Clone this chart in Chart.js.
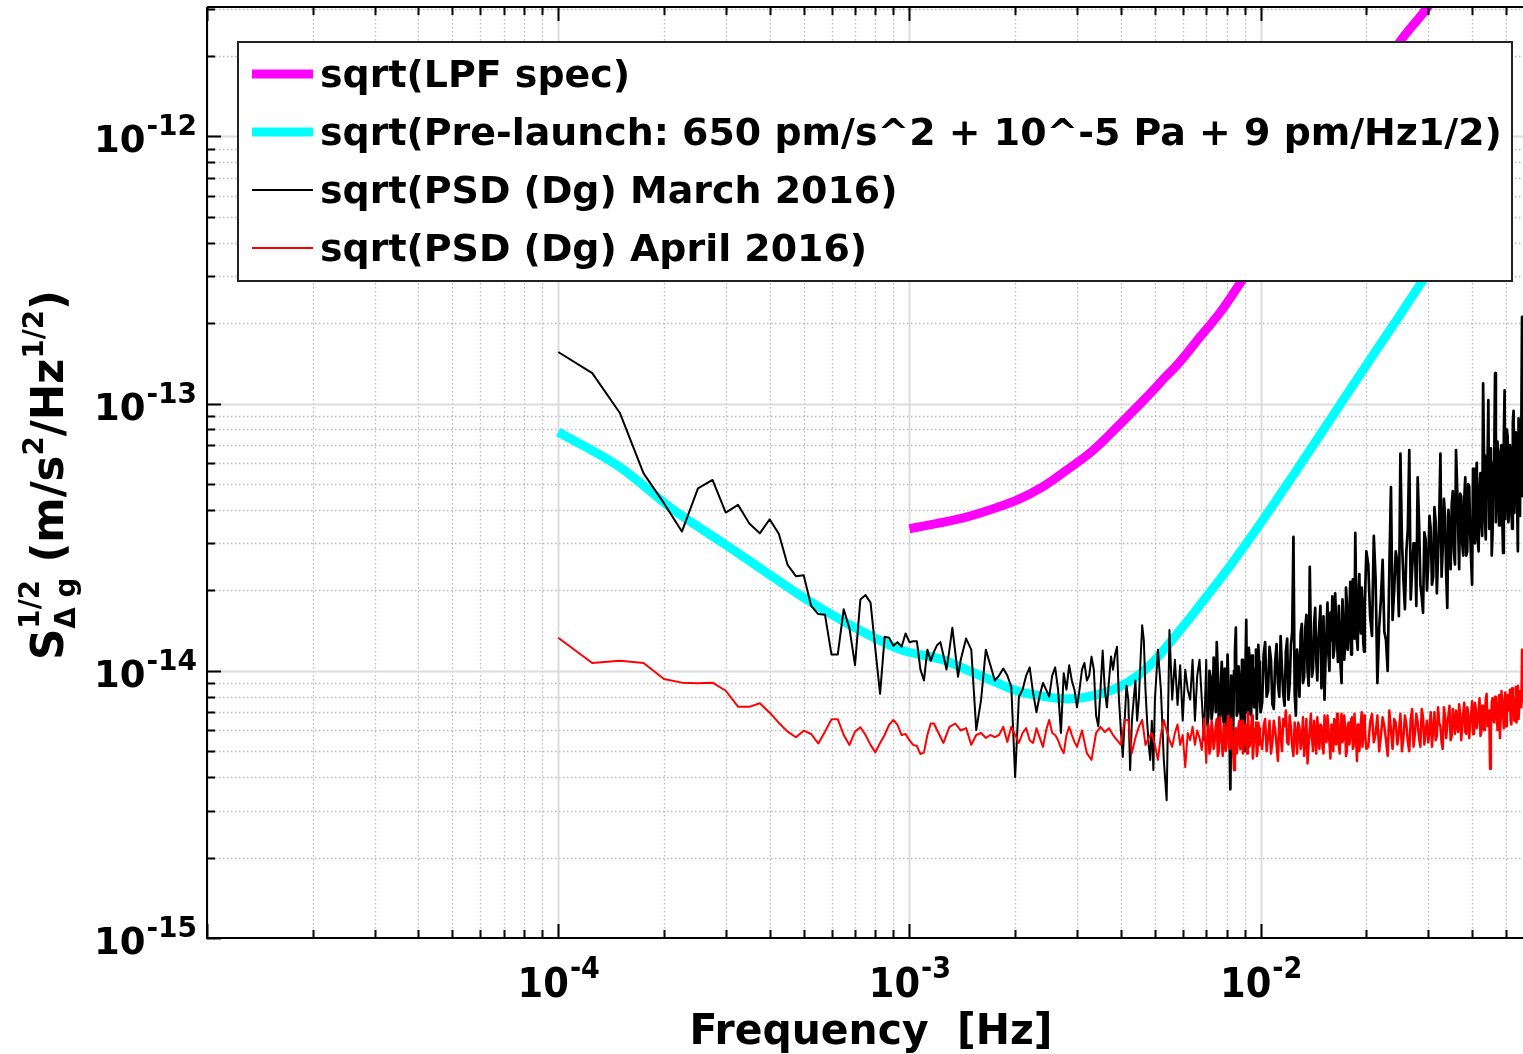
<!DOCTYPE html>
<html>
<head>
<meta charset="utf-8">
<title>LPF acceleration noise</title>
<script src="https://cdn.jsdelivr.net/npm/chart.js@4.4.1/dist/chart.umd.min.js"></script>
<style>
  html, body { margin: 0; padding: 0; background: #fff; }
  #wrap { width: 1523px; height: 1054px; }
</style>
</head>
<body>
<div id="wrap"><canvas id="psdChart" width="1523" height="1054"></canvas></div>
<script>
// frequencies in mHz, amplitudes in 1e-15 m/s^2/Hz^1/2

const xTickValues = [1e-4, 1e-3, 1e-2];
const xTickExponents = ['-4', '-3', '-2'];
const yTickValues = [1e-12, 1e-13, 1e-14, 1e-15];
const yTickExponents = ['-12', '-13', '-14', '-15'];

const lpfSpec = [
  [1.0, 34.0], [1.2, 35.6], [1.46, 37.7], [1.75, 40.6], [2.03, 43.6], [2.4, 48.9],
  [2.81, 56.5], [3.3, 66.1], [3.91, 81.9], [4.94, 112], [5.3, 124], [5.8, 140],
  [6.73, 178], [7.7, 221], [8.75, 283], [15.0, 830], [24.9, 2260], [29.9, 3050],
  [33.0, 3700]
];

const preLaunch = [
  [0.1, 78.3], [0.15, 57.8], [0.213, 40.0], [0.3, 29.6], [0.4, 22.9], [0.513, 18.4],
  [0.7, 14.5], [0.943, 12.0], [1.25, 10.97], [1.5, 9.92], [1.75, 9.1], [2.03, 8.4],
  [2.5, 7.96], [2.81, 7.85], [3.5, 8.2], [3.91, 8.63], [4.5, 9.65], [5.0, 10.97],
  [6.0, 14.6], [7.0, 18.9], [8.0, 23.7], [9.97, 35.5], [12.96, 59], [17.98, 113],
  [24.96, 215], [35, 423]
];

const marchPSD = [
  [0.100, 156], [0.125, 130], [0.150, 92], [0.175, 54.8], [0.200, 42.4], [0.225, 33.2],
  [0.250, 48.2], [0.275, 51.8], [0.300, 39.1], [0.325, 41.8], [0.350, 35.6], [0.375, 32.7],
  [0.400, 36.9], [0.425, 32.5], [0.450, 24.9], [0.475, 22.6], [0.500, 22.8], [0.525, 17.5],
  [0.550, 16.3], [0.575, 16.2], [0.600, 11.5], [0.625, 11.5], [0.650, 17.0], [0.675, 14.4],
  [0.700, 10.5], [0.725, 18.5], [0.750, 19.2], [0.775, 18.0], [0.800, 12.0], [0.825, 8.2],
  [0.850, 13.4], [0.875, 13.3], [0.900, 12.4], [0.925, 12.8], [0.950, 12.3], [0.975, 13.8],
  [1.000, 12.8], [1.025, 12.9], [1.050, 12.9], [1.075, 10.1], [1.100, 9.2], [1.125, 12.0],
  [1.150, 10.9], [1.175, 11.8], [1.200, 12.5], [1.225, 12.8], [1.250, 11.4], [1.275, 10.1],
  [1.300, 12.0], [1.325, 14.5], [1.350, 11.8], [1.375, 9.5], [1.400, 11.0], [1.45, 13.2],
  [1.5, 12.0], [1.55, 6.0], [1.6, 7.8], [1.65, 12.0], [1.7, 10.5], [1.75, 9.2],
  [1.8, 9.6], [1.85, 10.2], [1.9, 9.6], [1.95, 8.7], [2.0, 4.0], [2.05, 8.0],
  [2.1, 8.5], [2.15, 9.6], [2.2, 10.3], [2.25, 8.25], [2.3, 7.0], [2.35, 8.1],
  [2.4, 9.0], [2.45, 8.5], [2.5, 8.0], [2.55, 9.6], [2.6, 10.3], [2.65, 8.5],
  [2.7, 5.85], [2.75, 9.8], [2.8, 8.5], [2.85, 10.5], [2.9, 9.2], [2.95, 8.5],
  [3.0, 7.3], [3.05, 8.5], [3.1, 10.1], [3.15, 10.7], [3.2, 9.2], [3.25, 9.6],
  [3.3, 11.3], [3.35, 10.1], [3.4, 6.8], [3.45, 6.2], [3.5, 8.5], [3.55, 11.9],
  [3.6, 8.5], [3.65, 7.3], [3.7, 9.2], [3.75, 11.3], [3.8, 10.1], [3.85, 11.5],
  [3.9, 12.3], [3.95, 7.8], [4.0, 6.0], [4.05, 4.76], [4.1, 6.5], [4.15, 8.8],
  [4.2, 7.8], [4.25, 4.25], [4.3, 6.5], [4.35, 7.8], [4.4, 9.2], [4.45, 6.5],
  [4.5, 7.8], [4.55, 11.0], [4.6, 14.8], [4.65, 13.0], [4.7, 8.5], [4.75, 6.5],
  [4.8, 5.28], [4.85, 4.64], [4.9, 6.5], [4.95, 4.25], [5.0, 7.8], [5.1, 12.0],
  [5.2, 8.5], [5.3, 4.64], [5.4, 3.28], [5.5, 14.2], [5.6, 7.8], [5.7, 11.0],
  [5.8, 7.45], [5.9, 10.5], [6.0, 6.5], [6.1, 10.1], [6.2, 8.5], [6.3, 7.8],
  [6.4, 11.0], [6.5, 6.5], [6.6, 9.6], [6.7, 11.0], [6.8, 7.8], [6.9, 5.5],
  [7.0, 11.0], [7.1, 6.8], [7.2, 9.5], [7.3, 7.2], [7.4, 10.5], [7.5, 12.8],
  [7.6, 6.5], [7.7, 9.0], [7.8, 7.0], [7.9, 10.2], [8.0, 6.2], [8.1, 8.8],
  [8.2, 3.6], [8.3, 7.5], [8.4, 10.0], [8.5, 14.5], [8.6, 7.0], [8.7, 9.4],
  [8.8, 6.3], [8.9, 10.5], [9.0, 5.0], [9.1, 15.5], [9.2, 8.0], [9.3, 11.2],
  [9.4, 6.8], [9.5, 9.6], [9.6, 7.3], [9.7, 12.0], [9.8, 8.2], [9.9, 10.8],
  [10.0, 7.0], [10.2, 11.5], [10.4, 8.0], [10.6, 12.3], [10.8, 7.5], [11.0, 10.8],
  [11.2, 9.0], [11.4, 13.5], [11.6, 8.2], [11.8, 11.8], [12.0, 7.8], [12.2, 12.5],
  [12.4, 31.7], [12.6, 6.8], [12.8, 10.5], [13.0, 13.8], [13.2, 9.0], [13.4, 14.5],
  [13.6, 10.0], [13.8, 24.5], [14.0, 9.5], [14.2, 15.0], [14.4, 11.0], [14.6, 13.0],
  [14.8, 17.5], [15.0, 10.5], [15.2, 7.8], [15.4, 14.0], [15.6, 11.5], [15.8, 16.5],
  [16.0, 19.0], [16.2, 12.0], [16.4, 15.5], [16.6, 10.8], [16.8, 14.2], [17.0, 9.0],
  [17.2, 16.0], [17.4, 12.5], [17.6, 18.0], [17.8, 13.5], [18.0, 21.5], [18.2, 14.0],
  [18.4, 17.0], [18.6, 32.8], [18.8, 13.0], [19.0, 19.5], [19.2, 15.0], [19.4, 20.5],
  [19.6, 12.8], [19.8, 17.5], [20.0, 28.0], [20.5, 16.0], [21.0, 32.0], [21.5, 9.0],
  [22.0, 18.5], [22.5, 14.0], [23.0, 10.0], [23.5, 48.7], [24.0, 20.0], [24.5, 25.5],
  [25.0, 65], [25.5, 22.0], [26.0, 28.0], [26.5, 67], [27.0, 24.0], [27.5, 30.0],
  [28.0, 53], [28.5, 21.0], [29.0, 16.5], [29.5, 31.0], [30.0, 25.0], [30.5, 34.0],
  [31.0, 22.5], [31.5, 36.0], [32.0, 27.0], [32.5, 65], [33.0, 29.0], [33.5, 38.0],
  [34.0, 17.2], [34.5, 33.0], [35.0, 42.0], [35.5, 28.0], [36.0, 67], [36.5, 35.0],
  [37.0, 46.0], [37.5, 30.0], [38.0, 44.0], [38.5, 27.0], [39.0, 50.0], [39.5, 33.0],
  [40.0, 21.0], [40.5, 40.0], [41.0, 52.0], [41.5, 31.0], [42.0, 48.0], [42.5, 36.0],
  [43.0, 119], [43.5, 38.0], [44.0, 55.0], [44.5, 103], [45.0, 42.0], [45.5, 27.0],
  [46.0, 58.0], [46.5, 130], [47.0, 45.0], [47.5, 62.0], [48.0, 36.0], [48.5, 70.0],
  [49.0, 27.6], [49.5, 112], [50.0, 48.0], [50.5, 75.0], [51.0, 40.0], [51.5, 66.0],
  [52.0, 34.0], [52.5, 94], [53.0, 55.0], [53.5, 72.0], [54.0, 28.0], [54.5, 60.0],
  [55.0, 80.0], [55.5, 211], [56.0, 50.0]
];

// in-between bins of the dense part of the March trace
const marchFill = [
  [7.05, 6.2], [7.15, 10.0], [7.25, 6.6], [7.35, 11.2], [7.45, 7.0], [7.55, 9.8],
  [7.65, 5.8], [7.75, 10.8], [7.85, 6.4], [7.95, 9.0], [8.05, 11.5], [8.15, 6.0],
  [8.25, 9.6], [8.35, 5.6], [8.45, 11.8], [8.55, 6.8], [8.65, 10.4], [8.75, 7.2],
  [8.85, 11.0], [8.95, 6.5], [9.05, 9.8], [9.15, 7.0], [9.25, 12.2], [9.35, 6.9],
  [9.45, 11.4], [9.55, 7.5], [9.65, 10.2], [9.75, 6.6], [9.85, 12.5], [9.95, 8.0],
  [10.1, 7.6], [10.3, 12.8], [10.5, 8.4], [10.7, 11.0], [10.9, 7.2], [11.1, 12.6],
  [11.3, 8.0], [11.5, 10.2], [11.7, 7.4], [11.9, 13.2], [12.1, 9.0], [12.3, 14.0],
  [12.5, 8.2], [12.7, 12.0], [12.9, 8.0], [13.1, 15.0], [13.3, 9.5], [13.5, 16.2],
  [13.7, 8.8], [13.9, 13.5], [14.1, 10.2], [14.3, 17.2], [14.5, 9.2], [14.7, 15.0],
  [14.9, 8.6], [15.1, 16.0], [15.3, 11.0], [15.5, 18.0], [15.7, 10.0], [15.9, 13.0],
  [16.1, 11.2], [16.3, 19.5], [16.5, 12.8], [16.7, 17.5], [16.9, 10.2], [17.1, 18.5],
  [17.3, 11.0], [17.5, 20.5], [17.7, 12.0], [17.9, 16.5], [18.1, 11.5], [18.3, 22.0],
  [18.5, 13.2], [18.7, 19.0], [18.9, 12.0], [19.1, 23.0], [19.3, 13.8], [19.5, 17.5],
  [19.7, 11.8], [19.9, 22.5], [20.25, 25], [20.75, 13.5], [21.25, 22], [21.75, 14.5],
  [22.25, 26], [22.75, 13.0], [23.25, 24], [23.75, 15.5], [24.25, 28], [24.75, 16],
  [25.25, 31], [25.75, 17], [26.25, 34], [26.75, 18.5], [27.25, 30], [27.75, 17.5],
  [28.25, 36], [28.75, 19], [29.25, 33], [29.75, 20], [30.25, 38], [30.75, 21],
  [31.25, 41], [31.75, 19.5], [32.25, 37], [32.75, 22.5], [33.25, 44], [33.75, 23],
  [34.25, 40], [34.75, 24], [35.25, 47], [35.75, 25], [36.25, 50], [36.75, 24],
  [37.25, 45], [37.75, 27], [38.25, 53], [38.75, 28], [39.25, 49], [39.75, 26],
  [40.25, 57], [40.75, 30], [41.25, 60], [41.75, 28], [42.25, 55], [42.75, 32],
  [43.25, 64], [43.75, 31], [44.25, 59], [44.75, 34], [45.25, 68], [45.75, 33],
  [46.25, 62], [46.75, 36], [47.25, 72], [47.75, 35], [48.25, 66], [48.75, 38],
  [49.25, 75], [49.75, 37], [50.25, 80], [50.75, 36], [51.25, 70], [51.75, 40],
  [52.25, 85], [52.75, 39], [53.25, 78], [53.75, 42], [54.25, 88], [54.75, 38],
  [55.25, 82], [55.75, 45]
];

const aprilPSD = [
  [0.100, 13.3], [0.125, 10.7], [0.150, 10.9], [0.175, 10.7], [0.200, 9.32], [0.225, 9.03],
  [0.250, 8.98], [0.275, 9.03], [0.300, 8.42], [0.325, 7.34], [0.350, 7.33], [0.375, 7.56],
  [0.400, 6.97], [0.425, 6.38], [0.450, 5.92], [0.475, 5.64], [0.500, 5.97], [0.525, 5.80],
  [0.550, 5.35], [0.575, 5.92], [0.600, 6.58], [0.625, 6.59], [0.650, 5.75], [0.675, 5.28],
  [0.700, 5.92], [0.725, 6.15], [0.750, 5.75], [0.775, 5.28], [0.800, 4.95], [0.825, 5.37],
  [0.850, 5.75], [0.875, 6.27], [0.900, 6.55], [0.925, 6.27], [0.950, 5.75], [0.975, 5.8],
  [1.000, 5.5], [1.025, 5.28], [1.050, 5.23], [1.075, 4.88], [1.100, 4.95], [1.125, 5.75],
  [1.150, 6.35], [1.175, 6.35], [1.2, 5.98], [1.25, 5.37], [1.3, 6.17], [1.35, 6.35],
  [1.4, 5.98], [1.45, 6.1], [1.5, 5.28], [1.55, 5.75], [1.6, 5.85], [1.65, 5.61],
  [1.7, 5.75], [1.75, 5.65], [1.8, 5.75], [1.85, 6.17], [1.9, 5.42], [1.95, 6.17],
  [2.0, 5.75], [2.05, 5.37], [2.1, 5.85], [2.15, 6.1], [2.2, 5.5], [2.25, 5.37],
  [2.3, 6.1], [2.35, 5.61], [2.4, 5.19], [2.45, 5.98], [2.5, 6.55], [2.55, 5.85],
  [2.6, 5.75], [2.65, 5.5], [2.7, 5.15], [2.75, 4.92], [2.8, 5.75], [2.85, 6.17],
  [2.9, 5.75], [2.95, 5.42], [3.0, 5.19], [3.1, 5.98], [3.2, 4.92], [3.3, 4.64],
  [3.4, 5.85], [3.5, 6.17], [3.6, 5.9], [3.7, 6.1], [3.8, 5.75], [3.9, 5.5],
  [4.0, 5.28], [4.1, 6.55], [4.2, 6.55], [4.3, 4.92], [4.4, 5.61], [4.5, 6.17],
  [4.6, 6.55], [4.7, 5.28], [4.8, 5.61], [4.9, 5.85], [5.0, 5.28], [5.1, 4.64],
  [5.2, 5.75], [5.3, 6.55], [5.4, 5.98], [5.5, 5.5], [5.6, 5.19], [5.7, 5.85],
  [5.8, 6.3], [5.9, 5.28], [6.0, 5.75], [6.1, 4.36], [6.2, 5.85], [6.3, 5.5],
  [6.4, 6.17], [6.5, 5.28], [6.6, 5.98], [6.7, 5.61], [6.8, 5.05], [6.9, 6.65],
  [7.0, 4.52], [7.1, 6.3], [7.2, 5.2], [7.3, 6.0], [7.4, 5.5], [7.5, 6.6],
  [7.6, 5.0], [7.7, 5.9], [7.8, 4.8], [7.9, 6.2], [8.0, 5.4], [8.1, 6.8],
  [8.2, 5.1], [8.3, 5.8], [8.4, 4.25], [8.5, 6.1], [8.6, 5.3], [8.7, 6.5],
  [8.8, 5.6], [8.9, 4.9], [9.0, 6.0], [9.1, 5.4], [9.2, 7.0], [9.3, 5.2],
  [9.4, 6.2], [9.5, 4.7], [9.6, 5.8], [9.7, 6.4], [9.8, 5.0], [9.9, 6.1],
  [10.0, 5.5], [10.2, 6.2], [10.4, 5.0], [10.6, 6.5], [10.8, 5.4], [11.0, 6.0],
  [11.2, 4.6], [11.4, 5.8], [11.6, 6.6], [11.8, 7.1], [12.0, 5.3], [12.2, 6.1],
  [12.4, 4.8], [12.6, 5.9], [12.8, 6.4], [13.0, 5.1], [13.2, 6.7], [13.4, 5.5],
  [13.6, 4.5], [13.8, 6.0], [14.0, 5.6], [14.2, 6.5], [14.4, 4.9], [14.6, 5.8],
  [14.8, 6.3], [15.0, 5.2], [15.2, 6.8], [15.4, 5.4], [15.6, 6.0], [15.8, 4.7],
  [16.0, 5.9], [16.2, 6.6], [16.4, 5.3], [16.6, 6.2], [16.8, 4.9], [17.0, 6.9],
  [17.2, 5.6], [17.4, 6.1], [17.6, 5.0], [17.8, 6.4], [18.0, 5.7], [18.2, 6.7],
  [18.4, 5.2], [18.6, 6.0], [18.8, 4.6], [19.0, 6.3], [19.2, 5.5], [19.4, 7.0],
  [19.6, 5.8], [19.8, 6.2], [20.0, 5.1], [20.5, 6.4], [21.0, 5.4], [21.5, 6.8],
  [22.0, 5.7], [22.5, 6.2], [23.0, 4.8], [23.5, 6.0], [24.0, 6.6], [24.5, 5.3],
  [25.0, 6.9], [25.5, 5.6], [26.0, 6.3], [26.5, 5.0], [27.0, 7.2], [27.5, 5.8],
  [28.0, 6.4], [28.5, 5.2], [29.0, 6.7], [29.5, 6.0], [30.0, 5.4], [30.5, 7.0],
  [31.0, 6.1], [31.5, 5.5], [32.0, 7.3], [32.5, 6.2], [33.0, 5.1], [33.5, 6.8],
  [34.0, 6.3], [34.5, 7.4], [35.0, 5.7], [35.5, 6.6], [36.0, 7.1], [36.5, 5.9],
  [37.0, 6.9], [37.5, 6.2], [38.0, 7.6], [38.5, 5.8], [39.0, 7.0], [39.5, 6.4],
  [40.0, 7.7], [40.5, 6.0], [41.0, 7.2], [41.5, 6.5], [42.0, 7.9], [42.5, 5.9],
  [43.0, 7.4], [43.5, 6.7], [44.0, 8.2], [44.5, 6.3], [45.0, 4.3], [45.5, 7.6],
  [46.0, 6.6], [46.5, 8.0], [47.0, 6.9], [47.5, 7.5], [48.0, 5.6], [48.5, 8.4],
  [49.0, 7.0], [49.5, 7.8], [50.0, 6.2], [50.5, 8.1], [51.0, 7.3], [51.5, 6.5],
  [52.0, 8.6], [52.5, 7.2], [53.0, 7.9], [53.5, 6.4], [54.0, 8.8], [54.5, 7.4],
  [55.0, 8.3], [55.5, 12.0], [56.0, 7.6]
];

// in-between bins of the dense part of the April trace
const aprilFill = [
  [7.05, 5.9], [7.15, 4.9], [7.25, 6.5], [7.35, 5.1], [7.45, 6.2], [7.55, 4.8],
  [7.65, 6.7], [7.75, 5.4], [7.85, 6.3], [7.95, 5.0], [8.05, 6.4], [8.15, 5.2],
  [8.25, 6.6], [8.35, 5.0], [8.45, 5.9], [8.55, 4.9], [8.65, 6.2], [8.75, 5.1],
  [8.85, 6.5], [8.95, 5.3], [9.05, 6.3], [9.15, 4.9], [9.25, 6.0], [9.35, 5.5],
  [9.45, 6.8], [9.55, 5.2], [9.65, 6.1], [9.75, 4.8], [9.85, 6.4], [9.95, 5.3],
  [10.1, 5.1], [10.3, 6.6], [10.5, 5.6], [10.7, 4.9], [10.9, 6.5], [11.1, 5.3],
  [11.3, 6.7], [11.5, 5.0], [11.7, 6.2], [11.9, 5.4], [12.1, 6.8], [12.3, 5.2],
  [12.5, 6.4], [12.7, 4.9], [12.9, 6.1], [13.1, 5.5], [13.3, 4.8], [13.5, 6.6],
  [13.7, 5.3], [13.9, 6.9], [14.1, 5.0], [14.3, 5.9], [14.5, 6.7], [14.7, 5.1],
  [14.9, 6.2], [15.1, 4.9], [15.3, 5.7], [15.5, 6.8], [15.7, 5.4], [15.9, 6.3],
  [16.1, 5.0], [16.3, 6.0], [16.5, 6.9], [16.7, 5.2], [16.9, 6.4], [17.1, 5.4],
  [17.3, 6.8], [17.5, 4.8], [17.7, 6.2], [17.9, 5.3], [18.1, 6.6], [18.3, 5.1],
  [18.5, 6.9], [18.7, 5.6], [18.9, 6.3], [19.1, 5.0], [19.3, 6.5], [19.5, 5.2],
  [19.7, 6.8], [19.9, 5.5], [20.25, 5.2], [20.75, 6.9], [21.25, 5.8], [21.75, 5.0],
  [22.25, 6.7], [22.75, 5.5], [23.25, 7.1], [23.75, 5.1], [24.25, 6.4], [24.75, 5.9],
  [25.25, 5.0], [25.75, 6.8], [26.25, 5.4], [26.75, 6.6], [27.25, 5.2], [27.75, 6.9],
  [28.25, 5.6], [28.75, 7.2], [29.25, 5.3], [29.75, 6.5], [30.25, 6.0], [30.75, 5.2],
  [31.25, 7.0], [31.75, 5.7], [32.25, 6.4], [32.75, 5.4], [33.25, 7.3], [33.75, 5.6],
  [34.25, 6.8], [34.75, 5.5], [35.25, 7.2], [35.75, 5.8], [36.25, 6.4], [36.75, 7.5],
  [37.25, 5.5], [37.75, 7.0], [38.25, 5.9], [38.75, 7.3], [39.25, 5.6], [39.75, 6.8],
  [40.25, 5.8], [40.75, 7.6], [41.25, 6.1], [41.75, 7.0], [42.25, 5.7], [42.75, 7.4],
  [43.25, 6.0], [43.75, 7.8], [44.25, 6.2], [44.75, 7.1], [45.25, 5.9], [45.75, 7.9],
  [46.25, 6.4], [46.75, 7.2], [47.25, 6.0], [47.75, 8.1], [48.25, 6.6], [48.75, 7.5],
  [49.25, 6.1], [49.75, 8.3], [50.25, 6.8], [50.75, 7.1], [51.25, 8.5], [51.75, 6.3],
  [52.25, 7.7], [52.75, 6.5], [53.25, 8.7], [53.75, 7.0], [54.25, 6.6], [54.75, 8.4],
  [55.25, 7.3], [55.75, 9.0]
];

const seriesLabels = [
  'sqrt(LPF spec)',
  'sqrt(Pre-launch: 650 pm/s^2 + 10^-5 Pa + 9 pm/Hz1/2)',
  'sqrt(PSD (Dg) March 2016)',
  'sqrt(PSD (Dg) April 2016)'
];

const X_MIN = 1e-5, X_MAX = 5.585e-2;
const Y_MIN = 1e-15, Y_MAX = 3.05e-12;

const byFreq = (a, b) => a[0] - b[0];
const toXY = arr => arr.map(([f, v]) => ({ x: f * 1e-3, y: v * 1e-15 }));
// the many-bin part above ~7 mHz renders as a solid band in the original
const denseWidth = (thin, thick) => c => (c.p0.parsed.x > 7e-3 ? thick : thin);

function eachLogTick(min, max, fn) {
  const e0 = Math.floor(Math.log10(min)), e1 = Math.ceil(Math.log10(max));
  for (let e = e0; e <= e1; e++) {
    for (let m = 1; m <= 9; m++) {
      const v = m * Math.pow(10, e);
      if (v < min * 0.999 || v > max * 1.001) continue;
      fn(v, m === 1);
    }
  }
}

// matlab style grid: solid decades, dotted minors
const gridPlugin = {
  id: 'matlabGrid',
  beforeDatasetsDraw(chart) {
    const { ctx, chartArea: a, scales: { x, y } } = chart;
    ctx.save();
    ctx.beginPath();
    ctx.rect(a.left, a.top, a.right - a.left, a.bottom - a.top);
    ctx.clip();

    const drawLines = (major) => {
      ctx.beginPath();
      eachLogTick(X_MIN, X_MAX, (v, isMajor) => {
        if (isMajor !== major) return;
        const px = Math.round(x.getPixelForValue(v)) + 0.5;
        ctx.moveTo(px, a.top); ctx.lineTo(px, a.bottom);
      });
      eachLogTick(Y_MIN, Y_MAX, (v, isMajor) => {
        if (isMajor !== major) return;
        const py = Math.round(y.getPixelForValue(v)) + 0.5;
        ctx.moveTo(a.left, py); ctx.lineTo(a.right, py);
      });
      ctx.stroke();
    };

    ctx.strokeStyle = '#b8b8b8';
    ctx.lineWidth = 1.3;
    ctx.setLineDash([1.5, 2.5]);
    drawLines(false);

    ctx.setLineDash([]);
    ctx.strokeStyle = '#dcdcdc';
    ctx.lineWidth = 2;
    drawLines(true);
    ctx.restore();
  }
};

function drawPower(ctx, exp, xPos, baseY, o) {
  ctx.font = `bold ${o.size}px ${o.family}`;
  const wb = ctx.measureText('10').width;
  ctx.font = `bold ${o.supSize}px ${o.family}`;
  const ws = ctx.measureText(exp).width;
  const start = o.align === 'center' ? xPos - (wb + ws) / 2 : xPos - (wb + ws);
  ctx.textAlign = 'left';
  ctx.textBaseline = 'alphabetic';
  ctx.font = `bold ${o.size}px ${o.family}`;
  ctx.fillText('10', start, baseY);
  ctx.font = `bold ${o.supSize}px ${o.family}`;
  ctx.fillText(exp, start + wb + 1, baseY - o.raise);
}

const axesPlugin = {
  id: 'matlabAxes',
  afterDatasetsDraw(chart) {
    const { ctx, chartArea: a, scales: { x, y } } = chart;
    ctx.save();
    ctx.strokeStyle = '#000';
    ctx.lineWidth = 2;
    ctx.setLineDash([]);

    ctx.beginPath();
    ctx.moveTo(a.left, a.top); ctx.lineTo(a.right, a.top);
    ctx.moveTo(a.left, a.top); ctx.lineTo(a.left, a.bottom); ctx.lineTo(a.right, a.bottom);
    ctx.stroke();

    ctx.beginPath();
    eachLogTick(X_MIN, X_MAX, (v, major) => {
      const px = Math.round(x.getPixelForValue(v)) + 0.5;
      const len = major ? 14 : 8;
      ctx.moveTo(px, a.bottom); ctx.lineTo(px, a.bottom - len);
      ctx.moveTo(px, a.top); ctx.lineTo(px, a.top + len);
    });
    eachLogTick(Y_MIN, Y_MAX, (v, major) => {
      const py = Math.round(y.getPixelForValue(v)) + 0.5;
      const len = major ? 14 : 8;
      ctx.moveTo(a.left, py); ctx.lineTo(a.left + len, py);
    });
    ctx.stroke();

    ctx.fillStyle = '#000';
    xTickValues.forEach((v, i) => {
      drawPower(ctx, xTickExponents[i], x.getPixelForValue(v), 997, {
        family: "'DejaVu Sans Condensed', 'DejaVu Sans', sans-serif",
        size: 41, supSize: 30, raise: 19, align: 'center'
      });
    });
    yTickValues.forEach((v, i) => {
      drawPower(ctx, yTickExponents[i], 196, y.getPixelForValue(v) + 16, {
        family: "'DejaVu Sans', sans-serif",
        size: 37, supSize: 28, raise: 17, align: 'right'
      });
    });

    // x axis title, stretched to the reference width
    ctx.font = "bold 42px 'DejaVu Sans Condensed', 'DejaVu Sans', sans-serif";
    const title = 'Frequency  [Hz]';
    const tw = ctx.measureText(title).width;
    ctx.save();
    ctx.translate(871, 1044);
    ctx.scale(363 / tw, 1);
    ctx.textAlign = 'center';
    ctx.textBaseline = 'alphabetic';
    ctx.fillText(title, 0, 0);
    ctx.restore();

    drawYTitle(ctx);
    ctx.restore();
  }
};

function drawYTitle(ctx) {
  const fam = "'DejaVu Sans', sans-serif";
  const big = 44, small = 28;
  const pieces = [
    { t: 'S', size: big, dy: 0 },
    { stack: [{ t: '1/2', size: small, dy: -24 }, { t: '\u0394 g', size: small, dy: 12 }] },
    { t: ' (m/s', size: big, dy: 0 },
    { t: '2', size: small, dy: -20 },
    { t: '/Hz', size: big, dy: 0 },
    { t: '1/2', size: small, dy: -20 },
    { t: ')', size: big, dy: 0 }
  ];
  const w = p => { ctx.font = `bold ${p.size}px ${fam}`; return ctx.measureText(p.t).width; };
  let total = 0;
  pieces.forEach(p => { total += p.stack ? Math.max(...p.stack.map(w)) : w(p); });
  const sx = 370 / total;

  ctx.save();
  ctx.translate(63, 660);
  ctx.rotate(-Math.PI / 2);
  ctx.scale(sx, 1);
  ctx.textAlign = 'left';
  ctx.textBaseline = 'alphabetic';
  let cx = 0;
  pieces.forEach(p => {
    if (p.stack) {
      p.stack.forEach(s => {
        ctx.font = `bold ${s.size}px ${fam}`;
        ctx.fillText(s.t, cx, s.dy);
      });
      cx += Math.max(...p.stack.map(w));
    } else {
      ctx.font = `bold ${p.size}px ${fam}`;
      ctx.fillText(p.t, cx, p.dy);
      cx += w(p);
    }
  });
  ctx.restore();
}

const legendPlugin = {
  id: 'boxLegend',
  afterDraw(chart) {
    const { ctx } = chart;
    const box = { left: 238, top: 42, right: 1512, bottom: 281 };
    const rows = [74, 132, 190, 248];
    const fam = "'DejaVu Sans', sans-serif";
    ctx.save();
    ctx.fillStyle = '#fff';
    ctx.fillRect(box.left, box.top, box.right - box.left, box.bottom - box.top);
    ctx.strokeStyle = '#222';
    ctx.lineWidth = 2;
    ctx.strokeRect(box.left, box.top, box.right - box.left, box.bottom - box.top);

    ctx.font = `bold 34px ${fam}`;
    const longest = Math.max(...chart.data.datasets.map(d => ctx.measureText(d.label).width));
    const size = 34 * 1182 / longest;
    ctx.font = `bold ${size.toFixed(2)}px ${fam}`;
    ctx.textAlign = 'left';
    ctx.textBaseline = 'alphabetic';

    chart.data.datasets.forEach((d, i) => {
      const yy = rows[i];
      ctx.strokeStyle = d.borderColor;
      ctx.lineWidth = d.borderWidth;
      ctx.beginPath();
      ctx.moveTo(252, yy); ctx.lineTo(313, yy);
      ctx.stroke();
      ctx.fillStyle = '#000';
      ctx.fillText(d.label, 320, yy + 13);
    });
    ctx.restore();
  }
};

const ctx = document.getElementById('psdChart').getContext('2d');
new Chart(ctx, {
  type: 'line',
  data: {
    datasets: [
      { label: seriesLabels[0], data: toXY(lpfSpec), borderColor: '#ff00ff', borderWidth: 9, order: 4, cubicInterpolationMode: 'monotone' },
      { label: seriesLabels[1], data: toXY(preLaunch), borderColor: '#00ffff', borderWidth: 9, order: 3, cubicInterpolationMode: 'monotone' },
      { label: seriesLabels[2], data: toXY([...marchPSD, ...marchFill].sort(byFreq)), borderColor: '#000000', borderWidth: 2, order: 2,
        segment: { borderWidth: denseWidth(2, 2.7) } },
      { label: seriesLabels[3], data: toXY([...aprilPSD, ...aprilFill].sort(byFreq)), borderColor: '#ff0000', borderWidth: 2, order: 1,
        segment: { borderWidth: denseWidth(2, 2.5) } }
    ]
  },
  options: {
    responsive: false,
    animation: false,
    devicePixelRatio: 1,
    layout: { padding: { left: 207, right: 0, top: 7, bottom: 116 } },
    elements: {
      point: { radius: 0, hoverRadius: 0 },
      line: { tension: 0, borderJoinStyle: 'round', borderCapStyle: 'butt', fill: false }
    },
    scales: {
      x: { type: 'logarithmic', min: X_MIN, max: X_MAX, display: false },
      y: { type: 'logarithmic', min: Y_MIN, max: Y_MAX, display: false }
    },
    plugins: {
      legend: { display: false },
      tooltip: { enabled: false }
    }
  },
  plugins: [gridPlugin, axesPlugin, legendPlugin]
});
</script>
</body>
</html>
